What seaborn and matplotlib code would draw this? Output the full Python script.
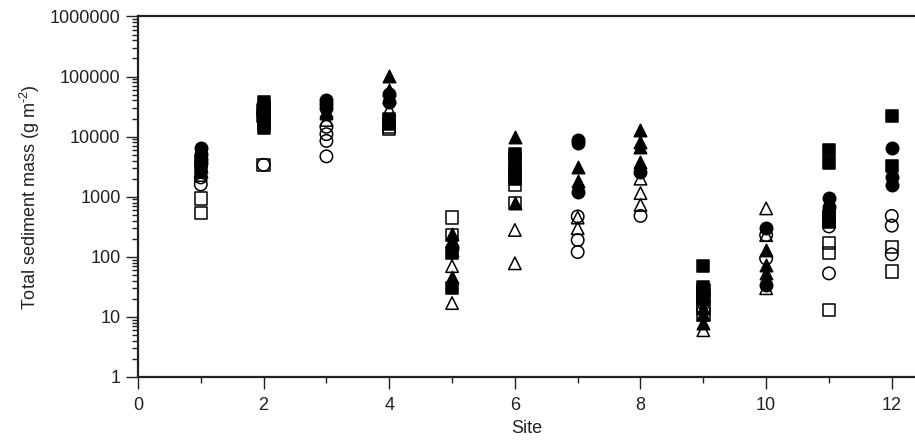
import numpy as np
import pandas as pd
import matplotlib
matplotlib.use("Agg")
import matplotlib.pyplot as plt
import matplotlib.ticker as mticker
import seaborn as sns

# ---- data (site -> values) for each marker series ----
filled_square = {
    1: [4000, 3000], 2: [38000, 31000, 26000, 21000, 17000, 14000],
    4: [20000, 16500], 5: [115, 30], 6: [5200, 4200, 3000, 2000],
    9: [71, 32, 26, 19], 11: [6100, 3700, 470, 380], 12: [22000, 3200],
}
filled_circle = {
    1: [6400, 5200, 4300, 3600], 3: [41000, 35000, 30000], 4: [52000, 38000],
    5: [140], 7: [8800, 7900, 1200], 8: [2600], 10: [300, 34],
    11: [940, 680], 12: [6400, 2150, 1570],
}
filled_triangle = {
    1: [3200, 2700], 3: [27000, 25000], 4: [104000, 60000, 45000],
    5: [240, 190, 130, 47], 6: [10000, 780], 7: [3150, 1800],
    8: [12900, 8200, 6800, 3800], 9: [14, 11, 8], 10: [130, 73, 53],
}
open_square = {
    1: [940, 540], 2: [28000, 22000, 3400], 4: [13500, 14500],
    5: [450, 230], 6: [2600, 1600, 780], 9: [28, 22, 15, 11],
    11: [460, 170, 115, 13], 12: [147, 57],
}
open_circle = {
    1: [2100, 1600], 2: [3400], 3: [14600, 11000, 8500, 4700],
    7: [470, 190, 120], 8: [480], 10: [230, 94], 11: [320, 53],
    12: [480, 330, 110],
}
open_triangle = {
    1: [2300], 3: [19000], 4: [28000], 5: [70, 17], 6: [280, 78],
    7: [450, 300], 8: [2000, 1150, 730], 9: [6], 10: [640, 230, 30],
}

y_ticks = [1, 10, 100, 1000, 10000, 100000, 1000000]
x_ticks = [0, 2, 4, 6, 8, 10, 12]


def to_frame(d):
    rows = [(s, v) for s, vals in d.items() for v in vals]
    return pd.DataFrame(rows, columns=["site", "mass"])


sns.set_theme(style="ticks")
plt.rcParams["font.family"] = ["Liberation Sans", "DejaVu Sans"]
plt.rcParams["mathtext.fontset"] = "custom"
plt.rcParams["mathtext.rm"] = "Liberation Sans"
plt.rcParams["mathtext.it"] = "Liberation Sans"
plt.rcParams["mathtext.default"] = "regular"

fig = plt.figure(figsize=(9.15, 4.47), dpi=100)
ax = fig.add_axes([0.1508, 0.1566, 0.8492, 0.8065])

series = [
    (filled_square, "s", "black", "black"),
    (filled_circle, "o", "black", "black"),
    (filled_triangle, "^", "black", "black"),
    (open_square, "s", "none", "black"),
    (open_circle, "o", "none", "black"),
    (open_triangle, "^", "none", "black"),
]
for d, m, fc, ec in series:
    df = to_frame(d)
    sns.scatterplot(data=df, x="site", y="mass", marker=m, s=80,
                    facecolor=fc, edgecolor=ec, linewidth=1.1, ax=ax,
                    legend=False, zorder=3)

ax.set_yscale("log")
ax.set_ylim(1, 1000000)
ax.set_xlim(0, 12.37)
ax.set_yticks(y_ticks)
ax.yaxis.set_major_formatter(mticker.FuncFormatter(lambda v, p: f"{int(round(v))}"))
ax.yaxis.set_minor_locator(mticker.LogLocator(base=10, subs=np.arange(2, 10), numticks=20))
ax.yaxis.set_minor_formatter(mticker.NullFormatter())
ax.set_xticks(x_ticks)
ax.set_xticks([1, 3, 5, 7, 9, 11], minor=True)

ax.spines["right"].set_visible(False)
ax.spines["top"].set_visible(True)
for sp in ["left", "bottom", "top"]:
    ax.spines[sp].set_linewidth(1.6)
    ax.spines[sp].set_color("#222222")

ax.tick_params(axis="both", which="major", length=8.5, width=1.0, direction="out",
               labelsize=13, colors="#222222", pad=4)
ax.tick_params(axis="both", which="minor", length=4, width=1.0, direction="out",
               colors="#222222")
ax.tick_params(axis="x", which="major", pad=6)

ax.set_xlabel("Site", fontsize=13, color="#222222", labelpad=4)
ax.set_ylabel("Total sediment mass (g m$^{\\text{-}2}$)", fontsize=13, color="#222222", labelpad=6)
ax.grid(False)

fig.savefig("out.png", dpi=100)
